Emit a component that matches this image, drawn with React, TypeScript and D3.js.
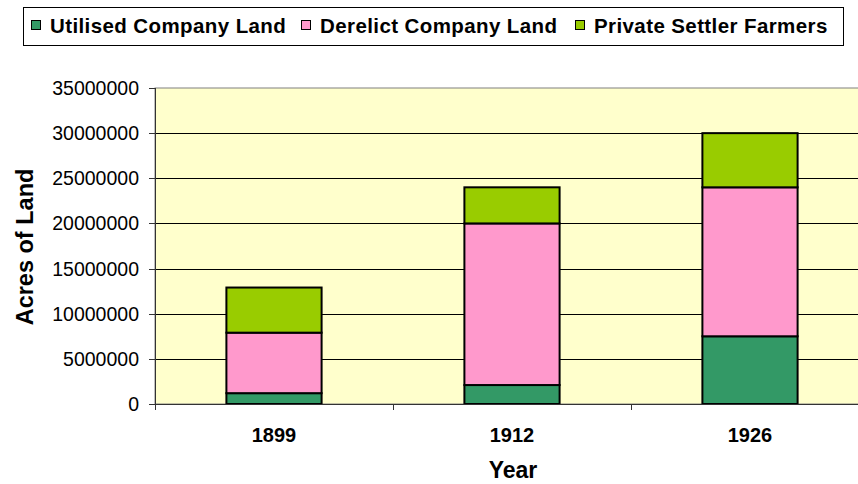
import React, { useEffect, useRef } from 'react';
import * as d3 from 'd3';

// chart data
const years = ['1899', '1912', '1926'];
const seriesNames = ['Utilised Company Land', 'Derelict Company Land', 'Private Settler Farmers'];
const utilised = [1200000, 2100000, 7500000];
const derelict = [6700000, 17900000, 16500000];
const privateSettler = [5000000, 4000000, 6000000];
const yTicks = [0, 5000000, 10000000, 15000000, 20000000, 25000000, 30000000, 35000000];

const colors = ['#339966', '#FF99CC', '#99CC00'];
const FONT = '"Liberation Sans", Arial, sans-serif';

function App() {
  const ref = useRef<SVGSVGElement>(null);

  useEffect(() => {
    const svg = d3.select(ref.current);
    svg.selectAll('*').remove();

    const left = 155, right = 869, top = 88, bottom = 404;

    const x = d3.scaleBand<string>()
      .domain(years)
      .range([left, right])
      .paddingInner(0.6)
      .paddingOuter(0.3);

    const y = d3.scaleLinear()
      .domain([0, 35000000])
      .range([bottom, top]);

    // plot area
    svg.append('rect')
      .attr('x', left).attr('y', top)
      .attr('width', right - left).attr('height', bottom - top)
      .attr('fill', '#FFFFCC')
      .attr('stroke', '#808080')
      .attr('stroke-width', 1);

    // gridlines
    svg.append('g')
      .selectAll('line')
      .data(yTicks.filter(d => d > 0 && d < 35000000))
      .join('line')
      .attr('x1', left).attr('x2', right)
      .attr('y1', d => Math.round(y(d)) + 0.5)
      .attr('y2', d => Math.round(y(d)) + 0.5)
      .attr('stroke', '#000')
      .attr('stroke-width', 1);

    // stacked bars
    const table = years.map((yr, i) => ({
      year: yr,
      s0: utilised[i],
      s1: derelict[i],
      s2: privateSettler[i],
    }));
    const stack = d3.stack<any>().keys(['s0', 's1', 's2']);
    const layers = stack(table);

    svg.append('g')
      .selectAll('g')
      .data(layers)
      .join('g')
      .attr('fill', (_, i) => colors[i])
      .selectAll('rect')
      .data(d => d)
      .join('rect')
      .attr('x', d => x(d.data.year)!)
      .attr('y', d => y(d[1]))
      .attr('width', x.bandwidth())
      .attr('height', d => y(d[0]) - y(d[1]))
      .attr('stroke', '#000')
      .attr('stroke-width', 2);

    // y axis
    const yAxis = svg.append('g');
    yAxis.append('line')
      .attr('x1', left + 0.5).attr('x2', left + 0.5)
      .attr('y1', top).attr('y2', bottom)
      .attr('stroke', '#333');
    yAxis.selectAll('line.tick')
      .data(yTicks)
      .join('line')
      .attr('class', 'tick')
      .attr('x1', left - 6).attr('x2', left)
      .attr('y1', d => Math.round(y(d)) + 0.5)
      .attr('y2', d => Math.round(y(d)) + 0.5)
      .attr('stroke', '#333');
    yAxis.selectAll('text')
      .data(yTicks)
      .join('text')
      .attr('x', 139)
      .attr('y', d => y(d))
      .attr('dy', '0.36em')
      .attr('text-anchor', 'end')
      .attr('font-family', FONT)
      .attr('font-size', 19.5)
      .attr('fill', '#000')
      .text(d => String(d));

    // x axis
    const xAxis = svg.append('g');
    xAxis.append('line')
      .attr('x1', left).attr('x2', right)
      .attr('y1', bottom + 0.5).attr('y2', bottom + 0.5)
      .attr('stroke', '#333');
    const step = x.step();
    xAxis.selectAll('line.tick')
      .data(d3.range(years.length + 1))
      .join('line')
      .attr('class', 'tick')
      .attr('x1', i => Math.round(left + i * step) + 0.5)
      .attr('x2', i => Math.round(left + i * step) + 0.5)
      .attr('y1', bottom).attr('y2', bottom + 6)
      .attr('stroke', '#333');
    xAxis.selectAll('text')
      .data(years)
      .join('text')
      .attr('x', d => x(d)! + x.bandwidth() / 2)
      .attr('y', 442)
      .attr('text-anchor', 'middle')
      .attr('font-family', FONT)
      .attr('font-size', 20)
      .attr('font-weight', 'bold')
      .attr('fill', '#000')
      .text(d => d);

    // axis titles
    svg.append('text')
      .attr('x', 513).attr('y', 478)
      .attr('text-anchor', 'middle')
      .attr('font-family', FONT)
      .attr('font-size', 23)
      .attr('font-weight', 'bold')
      .text('Year');

    svg.append('text')
      .attr('transform', 'translate(33,247) rotate(-90)')
      .attr('text-anchor', 'middle')
      .attr('font-family', FONT)
      .attr('font-size', 23.5)
      .attr('font-weight', 'bold')
      .text('Acres of Land');

    // legend
    const legend = svg.append('g');
    legend.append('rect')
      .attr('x', 23.5).attr('y', 7.5)
      .attr('width', 820).attr('height', 38)
      .attr('fill', '#fff')
      .attr('stroke', '#000');
    const textX = [50, 320, 594];
    const item = legend.selectAll('g')
      .data(seriesNames)
      .join('g')
      .attr('transform', (_, i) => `translate(${textX[i]},0)`);
    item.append('rect')
      .attr('x', -18.5).attr('y', 20.5)
      .attr('width', 9).attr('height', 9)
      .attr('fill', (_, i) => colors[i])
      .attr('stroke', '#000');
    item.append('text')
      .attr('x', 0).attr('y', 33)
      .attr('font-family', FONT)
      .attr('font-size', 20.5)
      .attr('font-weight', 'bold')
      .attr('letter-spacing', 0.4)
      .attr('fill', '#000')
      .text(d => d);
  }, []);

  return (
    <svg
      ref={ref}
      width={858}
      height={484}
      style={{ position: 'absolute', left: 0, top: 0, overflow: 'hidden', background: '#fff' }}
    />
  );
}

export default App;
